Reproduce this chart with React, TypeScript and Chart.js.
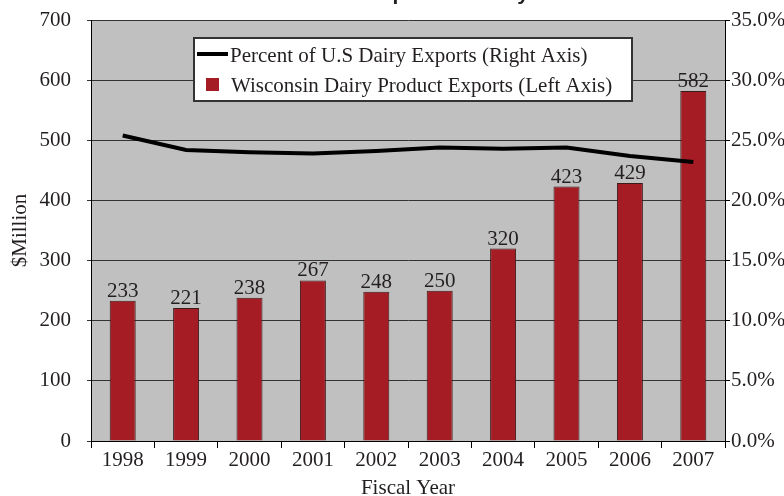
import React, { useEffect, useRef } from "react";
import { Chart, registerables } from "chart.js";

Chart.register(...registerables);

const years = ["1998", "1999", "2000", "2001", "2002", "2003", "2004", "2005", "2006", "2007"];
const wisconsinExports = [233, 221, 238, 267, 248, 250, 320, 423, 429, 582];
const percentOfUS = [25.4, 24.2, 24.0, 23.9, 24.1, 24.4, 24.3, 24.4, 23.7, 23.2];
const titleText = "Wisconsin Exports of Dairy Products";
const lineLabel = "Percent of U.S Dairy Exports (Right Axis)";
const barLabel = "Wisconsin Dairy Product Exports (Left Axis)";

const SERIF = "'Liberation Serif', 'Times New Roman', serif";
const FS = 21;
const TEXT = "#231f20";
const BAR = "#a51c24";

const bgPlugin = {
  id: "plotBg",
  beforeDraw(chart: any) {
    const { ctx, chartArea: a } = chart;
    ctx.save();
    ctx.fillStyle = "#c0c0c0";
    ctx.fillRect(a.left, a.top, a.right - a.left, a.bottom - a.top);
    ctx.restore();
  },
};

const labelsPlugin = {
  id: "barValues",
  afterDatasetsDraw(chart: any) {
    const { ctx } = chart;
    const idx = chart.data.datasets.findIndex((d: any) => d.type === "bar");
    const meta = chart.getDatasetMeta(idx);
    ctx.save();
    ctx.font = `${FS}px ${SERIF}`;
    ctx.fillStyle = TEXT;
    ctx.textAlign = "center";
    ctx.textBaseline = "alphabetic";
    meta.data.forEach((el: any, i: number) => {
      ctx.fillText(String(chart.data.datasets[idx].data[i]), el.x, el.y - 4);
    });
    ctx.restore();
  },
};

const legendPlugin = {
  id: "boxLegend",
  afterDraw(chart: any) {
    const { ctx } = chart;
    ctx.save();
    // title (cut off at top)
    ctx.font = "bold 21px 'Liberation Sans', Arial, sans-serif";
    ctx.fillStyle = TEXT;
    ctx.textAlign = "center";
    ctx.textBaseline = "alphabetic";
    ctx.fillText(titleText, 441, 0);

    const x0 = 194, y0 = 38, w = 438, h = 63;
    ctx.fillStyle = "#ffffff";
    ctx.fillRect(x0, y0, w, h);
    ctx.strokeStyle = "#333333";
    ctx.lineWidth = 2;
    ctx.strokeRect(x0, y0, w, h);

    const ds = chart.data.datasets;
    ctx.font = `${FS}px ${SERIF}`;
    ctx.textAlign = "left";
    ctx.textBaseline = "middle";
    // line item
    ctx.strokeStyle = ds[0].borderColor;
    ctx.lineWidth = 4;
    ctx.beginPath();
    ctx.moveTo(197, 54);
    ctx.lineTo(228, 54);
    ctx.stroke();
    ctx.fillStyle = TEXT;
    ctx.fillText(ds[0].label, 230, 56);
    // bar item
    ctx.fillStyle = ds[1].backgroundColor;
    ctx.fillRect(206, 78, 13, 13);
    ctx.fillStyle = TEXT;
    ctx.fillText(ds[1].label, 231, 86);
    ctx.restore();
  },
};

export default function App() {
  const ref = useRef<HTMLCanvasElement>(null);
  useEffect(() => {
    if (!ref.current) return;
    const chart = new Chart(ref.current, {
      type: "bar",
      data: {
        labels: years,
        datasets: [
          {
            type: "line",
            label: lineLabel,
            data: percentOfUS,
            yAxisID: "y1",
            borderColor: "#000000",
            borderWidth: 4,
            pointRadius: 0,
            tension: 0,
            fill: false,
          } as any,
          {
            type: "bar",
            label: barLabel,
            data: wisconsinExports,
            yAxisID: "y",
            backgroundColor: BAR,
            borderColor: "#3a1a1a",
            borderWidth: 1,
            barPercentage: 0.41,
            categoryPercentage: 1,
          } as any,
        ],
      },
      options: {
        responsive: false,
        animation: false,
        layout: { padding: { top: 20, left: 0, right: 0, bottom: 0 } },
        plugins: {
          legend: { display: false },
          tooltip: { enabled: false },
          title: { display: false },
        },
        scales: {
          x: {
            grid: { offset: true, drawOnChartArea: false, drawTicks: true, tickLength: 7, color: "#000" },
            border: { color: "#000", width: 1 },
            ticks: { font: { family: SERIF, size: FS }, color: TEXT, padding: 0, maxRotation: 0 },
            title: { display: true, text: "Fiscal Year", font: { family: SERIF, size: FS, lineHeight: 1 }, color: TEXT, padding: { top: 0, bottom: -3 } },
            afterFit(scale: any) { scale.height = 55; scale.paddingLeft = 0; scale.paddingRight = 0; },
          },
          y: {
            position: "left",
            min: 0,
            max: 700,
            ticks: { stepSize: 100, font: { family: SERIF, size: FS }, color: TEXT, padding: 16 },
            grid: { color: "#333333", tickLength: 4, lineWidth: 1 },
            border: { color: "#000", width: 1 },
            title: { display: true, text: "$Million", font: { family: SERIF, size: FS }, color: TEXT, padding: { top: 8, bottom: 0 } },
            afterFit(scale: any) { scale.width = 91; scale.paddingTop = 0; scale.paddingBottom = 0; },
          },
          y1: {
            position: "right",
            min: 0,
            max: 35,
            ticks: {
              stepSize: 5,
              font: { family: SERIF, size: FS },
              color: TEXT,
              padding: 1,
              callback: (v: any) => Number(v).toFixed(1) + "%",
            },
            grid: { drawOnChartArea: false, drawTicks: true, tickLength: 5, color: "#000" },
            border: { color: "#000", width: 1 },
            afterFit(scale: any) { scale.width = 59; scale.paddingTop = 0; scale.paddingBottom = 0; },
          },
        },
      },
      plugins: [bgPlugin, labelsPlugin, legendPlugin],
    });
    return () => chart.destroy();
  }, []);
  return (
    <div style={{ position: "fixed", left: 0, top: 0, width: 784, height: 496, background: "#fff" }}>
      <canvas ref={ref} width={784} height={496} style={{ display: "block" }} />
    </div>
  );
}
